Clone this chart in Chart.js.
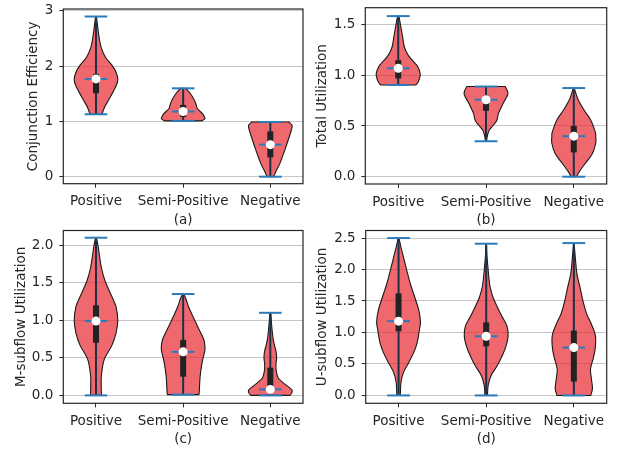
<!DOCTYPE html>
<html>
<head>
<meta charset="utf-8">
<script src="https://cdn.jsdelivr.net/npm/chart.js@4.4.1/dist/chart.umd.min.js"></script>
<style>
  body { margin: 0; background: #fff; }
  #fig { position: relative; width: 617px; height: 450px; overflow: hidden; }
  #fig canvas { position: absolute; }
</style>
</head>
<body>
<div id="fig">
  <canvas id="panelA" width="309" height="229" style="left:0;top:0"></canvas>
  <canvas id="panelB" width="312" height="229" style="left:305px;top:0"></canvas>
  <canvas id="panelC" width="309" height="224" style="left:0;top:226px"></canvas>
  <canvas id="panelD" width="312" height="224" style="left:305px;top:226px"></canvas>
</div>
<script>
// data block
const categories = ['Positive', 'Semi-Positive', 'Negative'];
const positions = [1, 2, 3];

// (a) conjunction efficiency: kde outline (level -> relative width) per category
const ceLevels = [
  [1.13, 1.27, 1.39, 1.54, 1.66, 1.77, 1.9, 2.02, 2.17, 2.35, 2.53, 2.71, 2.9],
  [1.01, 1.05, 1.084, 1.145, 1.235, 1.325, 1.446, 1.566, 1.6],
  [0, 0.09, 0.25, 0.5, 0.7, 0.85, 0.93, 0.99]
];
const ceDensity = [
  [0.27, 0.41, 0.58, 0.79, 0.94, 1.0, 0.91, 0.73, 0.42, 0.23, 0.14, 0.08, 0.02],
  [0.85, 1.0, 0.97, 0.88, 0.65, 0.58, 0.43, 0.2, 0.08],
  [0.15, 0.25, 0.45, 0.68, 0.85, 0.97, 1.0, 0.85]
];
const ceMin = [1.13, 1.01, 0.0];
const ceQ1 = [1.51, 1.08, 0.35];
const ceMedian = [1.77, 1.18, 0.58];
const ceQ3 = [1.86, 1.3, 0.82];
const ceMax = [2.9, 1.6, 0.99];
const ceTicks = [0, 1, 2, 3];
const ceTickLabels = ['0', '1', '2', '3'];

// (b) total utilization
const tuLevels = [
  [0.905, 0.94, 0.98, 1.02, 1.09, 1.13, 1.2, 1.28, 1.38, 1.48, 1.585],
  [0.35, 0.41, 0.46, 0.51, 0.56, 0.625, 0.72, 0.82, 0.89],
  [0, 0.05, 0.13, 0.23, 0.33, 0.4, 0.44, 0.56, 0.66, 0.76, 0.82, 0.875]
];
const tuDensity = [
  [0.8, 0.92, 0.98, 1.0, 0.88, 0.72, 0.45, 0.28, 0.2, 0.12, 0.03],
  [0.02, 0.07, 0.15, 0.34, 0.5, 0.57, 0.77, 1.0, 0.87],
  [0.13, 0.25, 0.52, 0.85, 1.0, 1.0, 0.98, 0.77, 0.46, 0.2, 0.1, 0.02]
];
const tuMin = [0.905, 0.35, 0.0];
const tuQ1 = [0.97, 0.65, 0.24];
const tuMedian = [1.07, 0.76, 0.4];
const tuQ3 = [1.15, 0.8, 0.5];
const tuMax = [1.585, 0.89, 0.875];
const tuTicks = [0, 0.5, 1, 1.5];
const tuTickLabels = ['0.0', '0.5', '1.0', '1.5'];

// (c) M-subflow utilization
const muLevels = [
  [0, 0.14, 0.27, 0.48, 0.66, 0.83, 1.0, 1.18, 1.36, 1.53, 1.7, 1.88, 2.0, 2.1],
  [0.01, 0.05, 0.22, 0.35, 0.48, 0.61, 0.72, 0.79, 0.92, 1.05, 1.18, 1.29, 1.35],
  [0, 0.03, 0.07, 0.11, 0.18, 0.24, 0.33, 0.42, 0.5, 0.59, 0.68, 0.77, 0.94, 1.1]
];
const muDensity = [
  [0.25, 0.24, 0.25, 0.38, 0.72, 0.92, 1.0, 0.92, 0.66, 0.41, 0.25, 0.15, 0.09, 0.02],
  [0.72, 0.74, 0.77, 0.82, 0.9, 1.0, 0.97, 0.88, 0.66, 0.45, 0.25, 0.12, 0.02],
  [0.9, 0.98, 1.0, 0.85, 0.54, 0.35, 0.27, 0.26, 0.29, 0.26, 0.18, 0.12, 0.06, 0.02]
];
const muMin = [0.0, 0.01, 0.0];
const muQ1 = [0.7, 0.25, 0.07];
const muMedian = [0.99, 0.58, 0.08];
const muQ3 = [1.2, 0.74, 0.37];
const muMax = [2.1, 1.35, 1.1];
const muTicks = [0, 0.5, 1, 1.5, 2];
const muTickLabels = ['0.0', '0.5', '1.0', '1.5', '2.0'];

// (d) U-subflow utilization
const uuLevels = [
  [0, 0.21, 0.37, 0.52, 0.68, 0.84, 1.04, 1.17, 1.36, 1.56, 1.77, 1.98, 2.19, 2.34, 2.5],
  [0, 0.16, 0.32, 0.47, 0.63, 0.78, 0.94, 1.1, 1.25, 1.41, 1.56, 1.72, 1.88, 2.03, 2.24, 2.41],
  [0, 0.11, 0.27, 0.42, 0.58, 0.73, 0.89, 0.99, 1.15, 1.3, 1.51, 1.72, 1.93, 2.14, 2.42]
];
const uuDensity = [
  [0.08, 0.11, 0.23, 0.46, 0.69, 0.85, 0.95, 1.0, 0.92, 0.74, 0.54, 0.38, 0.23, 0.12, 0.02],
  [0.06, 0.09, 0.23, 0.5, 0.73, 0.9, 1.0, 0.95, 0.73, 0.5, 0.31, 0.18, 0.12, 0.08, 0.03, 0.01],
  [0.77, 0.85, 0.8, 0.76, 0.88, 0.97, 1.0, 0.96, 0.78, 0.58, 0.41, 0.28, 0.14, 0.08, 0.01]
];
const uuMin = [0.0, 0.0, 0.0];
const uuQ1 = [1.02, 0.78, 0.22];
const uuMedian = [1.18, 0.94, 0.76];
const uuQ3 = [1.62, 1.16, 1.03];
const uuMax = [2.5, 2.41, 2.42];
const uuTicks = [0, 0.5, 1, 1.5, 2, 2.5];
const uuTickLabels = ['0.0', '0.5', '1.0', '1.5', '2.0', '2.5'];

// style block
const FONT = { family: 'DejaVu Sans', size: 13.5 };
const TEXT = '#262626';
const HALF = 0.25;      // half of violin width (x units)
const CAP = 0.13;       // half of cap / median line length

// smooth line through points (catmull-rom -> bezier)
const curveThrough = (ctx, pts) => {
  ctx.lineTo(pts[0][0], pts[0][1]);
  for (let i = 0; i < pts.length - 1; i++) {
    const p0 = pts[i - 1] || pts[i];
    const p1 = pts[i];
    const p2 = pts[i + 1];
    const p3 = pts[i + 2] || p2;
    ctx.bezierCurveTo(
      p1[0] + (p2[0] - p0[0]) / 6, p1[1] + (p2[1] - p0[1]) / 6,
      p2[0] - (p3[0] - p1[0]) / 6, p2[1] - (p3[1] - p1[1]) / 6,
      p2[0], p2[1]
    );
  }
};

// violin plugin, one per panel
const makeViolins = (p) => ({
  id: 'violins',
  beforeDatasetsDraw(chart) {
    const { ctx, scales: { x, y } } = chart;
    ctx.save();
    positions.forEach((pos, i) => {
      const lv = p.levels[i];
      const dn = p.density[i];
      const right = lv.map((v, k) => [x.getPixelForValue(pos + dn[k] * HALF), y.getPixelForValue(v)]);
      const left = lv.map((v, k) => [x.getPixelForValue(pos - dn[k] * HALF), y.getPixelForValue(v)]).reverse();

      // body
      ctx.beginPath();
      ctx.moveTo(x.getPixelForValue(pos), right[0][1]);
      curveThrough(ctx, right);
      curveThrough(ctx, left);
      ctx.closePath();
      ctx.fillStyle = 'rgba(232, 40, 48, 0.7)';
      ctx.fill();
      ctx.lineWidth = 1.1;
      ctx.strokeStyle = '#1a1a1a';
      ctx.stroke();

      const cx = x.getPixelForValue(pos);
      // min-max bar
      ctx.beginPath();
      ctx.moveTo(cx, y.getPixelForValue(p.min[i]));
      ctx.lineTo(cx, y.getPixelForValue(p.max[i]));
      ctx.lineWidth = 2;
      ctx.strokeStyle = '#1d3046';
      ctx.stroke();

      // quartile box
      ctx.beginPath();
      ctx.moveTo(cx, y.getPixelForValue(p.q1[i]));
      ctx.lineTo(cx, y.getPixelForValue(p.q3[i]));
      ctx.lineWidth = 6;
      ctx.strokeStyle = '#222';
      ctx.stroke();

      // caps + median
      ctx.lineWidth = 2;
      ctx.strokeStyle = '#2b7bba';
      [p.min[i], p.max[i], p.median[i]].forEach(v => {
        const py = y.getPixelForValue(v);
        ctx.beginPath();
        ctx.moveTo(x.getPixelForValue(pos - CAP), py);
        ctx.lineTo(x.getPixelForValue(pos + CAP), py);
        ctx.stroke();
      });
    });
    ctx.restore();
  },
  afterDraw(chart) {
    const { ctx, chartArea: { left, top, width, height } } = chart;
    ctx.save();
    ctx.lineWidth = 1.2;
    ctx.strokeStyle = '#262626';
    ctx.strokeRect(left, top, width, height);
    ctx.restore();
  }
});

const buildPanel = (id, p) => {
  return new Chart(document.getElementById(id), {
    type: 'scatter',
    data: {
      datasets: [{
        data: positions.map((pos, i) => ({ x: pos, y: p.median[i] })),
        pointRadius: 4.5,
        pointHoverRadius: 4.5,
        backgroundColor: '#ffffff',
        borderWidth: 0
      }]
    },
    options: {
      responsive: false,
      animation: false,
      events: [],
      layout: { padding: p.pad },
      plugins: { legend: { display: false }, tooltip: { enabled: false } },
      scales: {
        x: {
          type: 'linear',
          min: 0.625,
          max: 3.375,
          afterBuildTicks: s => { s.ticks = positions.map(v => ({ value: v })); },
          afterFit: s => { s.height = p.xh; s.paddingLeft = 0; s.paddingRight = 0; },
          ticks: {
            callback: (v, i) => categories[i],
            autoSkip: false,
            maxRotation: 0,
            padding: 6,
            font: FONT,
            color: TEXT
          },
          grid: { drawOnChartArea: false, tickLength: 4, tickColor: '#262626', tickWidth: 1 },
          border: { display: false },
          title: { display: true, text: p.tag, font: FONT, color: TEXT, padding: { top: 0, bottom: 0 } }
        },
        y: {
          type: 'linear',
          min: p.yRange[0],
          max: p.yRange[1],
          afterBuildTicks: s => { s.ticks = p.ticks.map(v => ({ value: v })); },
          afterFit: s => { s.width = p.yw; s.paddingTop = 0; s.paddingBottom = 0; },
          ticks: {
            callback: (v, i) => p.tickLabels[i],
            padding: 6,
            font: FONT,
            color: TEXT
          },
          grid: { color: '#c6c6c6', lineWidth: 1.1, tickLength: 4, tickColor: '#262626', tickWidth: 1 },
          border: { display: false },
          title: { display: true, text: p.label, font: FONT, color: TEXT, padding: { top: 0, bottom: 0 } }
        }
      }
    },
    plugins: [makeViolins(p)]
  });
};

// init render block
buildPanel('panelA', {
  levels: ceLevels, density: ceDensity, min: ceMin, q1: ceQ1, median: ceMedian, q3: ceQ3, max: ceMax,
  ticks: ceTicks, tickLabels: ceTickLabels, label: 'Conjunction Efficiency', tag: '(a)',
  yRange: [-0.127, 3.036],
  pad: { left: 25.6, right: 6, top: 9, bottom: 0 }, yw: 37.7, xh: 45.3
});
buildPanel('panelB', {
  levels: tuLevels, density: tuDensity, min: tuMin, q1: tuQ1, median: tuMedian, q3: tuQ3, max: tuMax,
  ticks: tuTicks, tickLabels: tuTickLabels, label: 'Total Utilization', tag: '(b)',
  yRange: [-0.072, 1.668],
  pad: { left: 9.3, right: 10.3, top: 7.7, bottom: 0 }, yw: 51, xh: 45
});
buildPanel('panelC', {
  levels: muLevels, density: muDensity, min: muMin, q1: muQ1, median: muMedian, q3: muQ3, max: muMax,
  ticks: muTicks, tickLabels: muTickLabels, label: 'M-subflow Utilization', tag: '(c)',
  yRange: [-0.105, 2.196],
  pad: { left: 12.9, right: 6, top: 1.3, bottom: 2.5 }, yw: 50.4, xh: 44.2
});
buildPanel('panelD', {
  levels: uuLevels, density: uuDensity, min: uuMin, q1: uuQ1, median: uuMedian, q3: uuQ3, max: uuMax,
  ticks: uuTicks, tickLabels: uuTickLabels, label: 'U-subflow Utilization', tag: '(d)',
  yRange: [-0.125, 2.62],
  pad: { left: 9.3, right: 10.3, top: 1.3, bottom: 2.5 }, yw: 51.4, xh: 44.2
});
</script>
</body>
</html>
